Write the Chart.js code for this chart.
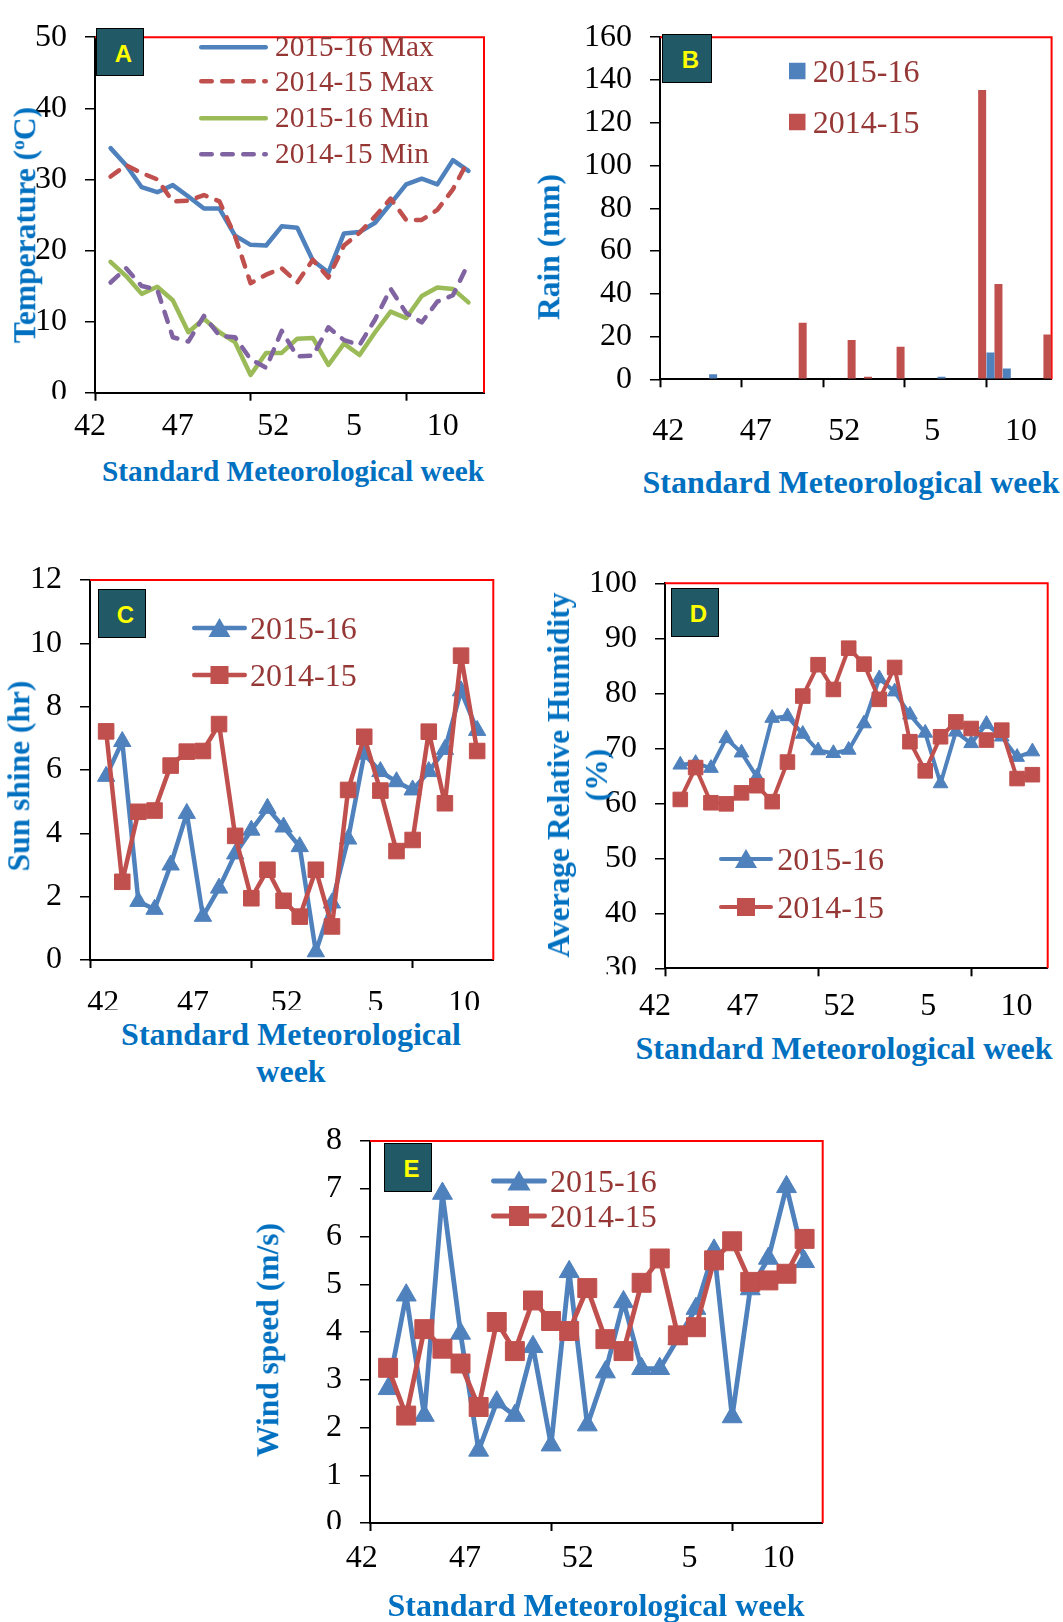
<!DOCTYPE html>
<html>
<head>
<meta charset="utf-8">
<title>Weather by standard meteorological week</title>
<script src="https://cdn.jsdelivr.net/npm/chart.js@4.4.1/dist/chart.umd.min.js"></script>
<style>
  html, body { margin: 0; padding: 0; background: #fff; }
  body { position: relative; width: 1063px; height: 1622px; overflow: hidden; font-family: 'Liberation Serif', 'Times New Roman', serif; }
  canvas { position: absolute; }
  .ytitle, .xtitle { position: absolute; color: #0070C0; font-weight: bold; white-space: nowrap; line-height: 1; }
  .ytitle { font-size: 31.5px; transform: translate(-50%, -50%) rotate(-90deg); text-align: center; }
  .xtitle { font-size: 32px; transform: translate(-50%, -50%); }
  .sup { font-size: 0.62em; position: relative; top: -0.55em; }
  .tag { position: absolute; background: #215967; border: 1px solid #000; box-sizing: border-box; color: #FFFF00;
         font: bold 24px 'Liberation Sans', Arial, sans-serif; display: flex; align-items: center; justify-content: center; padding: 3px 0 0 7px; }
  .leg { position: absolute; display: flex; align-items: center; transform: translateY(-50%); color: #953735; line-height: 1; white-space: nowrap; }
  .leg svg { display: block; }
</style>
</head>
<body>
<canvas id="chartA"></canvas>
<canvas id="chartB"></canvas>
<canvas id="chartC"></canvas>
<canvas id="chartD"></canvas>
<canvas id="chartE"></canvas>

<div class="ytitle" style="left:25px;top:225px">Temperature (<span class="sup">o</span>C)</div>
<div class="xtitle" style="left:293px;top:472px;font-size:29.3px">Standard Meteorological week</div>
<div class="ytitle" style="left:549px;top:247px">Rain (mm)</div>
<div class="xtitle" style="left:851px;top:482px">Standard Meteorological week</div>
<div class="ytitle" style="left:19px;top:776px">Sun shine (hr)</div>
<div style="position:absolute;left:61px;top:1010px;width:460px;padding-top:6px;background:#fff;text-align:center;color:#0070C0;font-weight:bold;font-size:32px;line-height:37px">Standard Meteorological<br>week</div>
<div class="ytitle" style="left:578px;top:775px;line-height:38px">Average Relative Humidity<br>(%)</div>
<div class="xtitle" style="left:844px;top:1048px">Standard Meteorological week</div>
<div class="ytitle" style="left:268px;top:1340px">Wind speed (m/s)</div>
<div class="xtitle" style="left:596px;top:1605px">Standard Meteorological week</div>

<div class="tag" style="left:96px;top:28px;width:48px;height:48px">A</div>
<div class="tag" style="left:662px;top:34px;width:50px;height:49px">B</div>
<div class="tag" style="left:98px;top:589px;width:48px;height:49px">C</div>
<div class="tag" style="left:671px;top:588px;width:48px;height:49px">D</div>
<div class="tag" style="left:384px;top:1143px;width:48px;height:49px">E</div>

<script>
// categories: standard meteorological weeks, 42 of one year to 13 of the next
const weeks = [42, 43, 44, 45, 46, 47, 48, 49, 50, 51, 52, 1, 2, 3, 4, 5, 6, 7, 8, 9, 10, 11, 12, 13];
const weekTicks = ['42', '47', '52', '5', '10'];
const seasons = ['2015-16', '2014-15'];

// A: temperature (deg C)
const tMax1516 = [34.4, 32.0, 28.9, 28.2, 29.2, 27.6, 25.9, 25.9, 22.1, 20.8, 20.7, 23.4, 23.2, 18.6, 16.9, 22.4, 22.6, 23.9, 26.6, 29.3, 30.1, 29.3, 32.7, 31.2];
const tMax1415 = [30.4, 32.0, 30.9, 30.0, 26.9, 27.0, 27.8, 26.9, 22.0, 15.4, 16.6, 17.5, 15.5, 18.7, 16.2, 20.7, 22.5, 24.8, 27.3, 24.3, 24.3, 25.7, 28.6, 32.7];
const tMin1516 = [18.4, 16.4, 13.9, 14.9, 13.0, 8.5, 10.4, 8.5, 7.1, 2.5, 5.6, 5.6, 7.6, 7.7, 3.9, 6.9, 5.3, 8.5, 11.4, 10.5, 13.6, 14.8, 14.6, 12.7];
const tMin1415 = [15.5, 17.5, 15.0, 14.5, 7.8, 7.2, 10.8, 8.0, 7.8, 4.7, 3.5, 8.7, 5.1, 5.2, 9.2, 7.4, 6.7, 10.3, 14.6, 11.2, 9.9, 12.8, 13.7, 18.2];

// B: rain (mm)
const rain1516 = [0, 0, 0, 2.4, 0, 0, 0, 0, 0, 0, 0, 0, 0, 0, 0, 0, 0, 1.2, 0, 0, 12.5, 5.0, 0, 0];
const rain1415 = [0, 0, 0, 0, 0, 0, 0, 0, 26.4, 0, 0, 18.4, 1.2, 0, 15.2, 0, 0, 0, 0, 135.3, 44.6, 0, 0, 20.9];

// C: sun shine (hr)
const sun1516 = [5.8, 6.9, 1.85, 1.6, 3.0, 4.63, 1.38, 2.27, 3.35, 4.1, 4.79, 4.2, 3.58, 0.26, 1.8, 3.82, 6.5, 5.95, 5.63, 5.37, 5.95, 6.65, 8.5, 7.25];
const sun1415 = [7.22, 2.47, 4.68, 4.72, 6.14, 6.58, 6.6, 7.45, 3.92, 1.95, 2.85, 1.87, 1.37, 2.85, 1.06, 5.37, 7.05, 5.35, 3.44, 3.79, 7.21, 4.95, 9.61, 6.6];

// D: average relative humidity (%)
const rh1516 = [67.0, 67.3, 66.4, 71.8, 69.2, 64.8, 75.5, 75.8, 72.6, 69.6, 69.1, 69.7, 74.5, 82.7, 80.3, 76.1, 72.8, 63.6, 73.0, 70.9, 74.4, 72.1, 68.4, 69.4];
const rh1415 = [60.7, 66.5, 60.1, 59.9, 61.9, 63.2, 60.3, 67.5, 79.5, 85.2, 80.7, 88.2, 85.3, 78.9, 84.7, 71.2, 65.9, 72.1, 74.8, 73.6, 71.5, 73.3, 64.5, 65.2];

// E: wind speed (m/s)
const wind1516 = [2.81, 4.77, 2.25, 6.9, 3.97, 1.52, 2.53, 2.25, 3.69, 1.63, 5.26, 2.05, 3.16, 4.63, 3.23, 3.23, 3.86, 4.49, 5.71, 2.22, 4.9, 5.54, 7.04, 5.47];
const wind1415 = [3.25, 2.25, 4.06, 3.65, 3.34, 2.43, 4.21, 3.6, 4.66, 4.23, 4.02, 4.92, 3.85, 3.6, 5.03, 5.54, 3.93, 4.1, 5.5, 5.9, 5.05, 5.08, 5.22, 5.95];

const BLUE = '#4F81BD', RED = '#C0504D', GREEN = '#9BBB59', PURPLE = '#8064A2';
const SERIF = "'Liberation Serif', 'Times New Roman', serif";
const TICK = 8;   // x tick mark length
const LBL = 32;   // x label font size

// red frame on top/right of the plot, and the half-hidden bottom y label
const frame = {
  id: 'frame',
  beforeDatasetsDraw(chart) {
    const { ctx, chartArea: a } = chart;
    ctx.save();
    ctx.strokeStyle = '#FF0000';
    ctx.lineWidth = 2;
    ctx.beginPath();
    ctx.moveTo(a.left, a.top);
    ctx.lineTo(a.right, a.top);
    ctx.lineTo(a.right, a.bottom);
    ctx.stroke();
    ctx.restore();
  },
  afterDraw(chart, args, opts) {
    if (!opts.cut) return;
    const { ctx, chartArea: a } = chart;
    ctx.save();
    ctx.fillStyle = '#fff';
    ctx.fillRect(0, a.bottom + 6, a.left - 12, 14);
    ctx.restore();
  }
};

function place(id, box) {
  const cv = document.getElementById(id);
  cv.width = box.w;
  cv.height = box.h;
  cv.style.left = box.x + 'px';
  cv.style.top = box.y + 'px';
  return cv;
}

function buildOptions(box, area, cfg) {
  const xTop = area.b + TICK;
  const xlH = box.y + box.h - xTop;
  const x = {
    position: 'bottom', weight: 0,
    border: { color: '#000', width: 2 },
    grid: {
      drawOnChartArea: false, drawTicks: true, tickLength: TICK, tickWidth: 2, color: '#000',
      offset: !!cfg.bars,
      tickColor: cfg.bars ? (c => c.index % 5 === 0 ? '#000' : 'rgba(0,0,0,0)') : '#000'
    },
    ticks: { autoSkip: false, maxRotation: 0, callback: () => '' },
    afterFit: s => { s.height = TICK; }
  };
  if (cfg.bars) {
    x.type = 'category';
    x.offset = true;
  } else {
    x.type = 'linear';
    x.offset = false;
    x.min = 42;
    x.max = 67;
    x.afterBuildTicks = s => { s.ticks = [42, 52, 62].map(v => ({ value: v })); };
  }
  return {
    responsive: false, animation: false, events: [], devicePixelRatio: 1,
    layout: { padding: { top: area.t - box.y, right: box.x + box.w - area.r, left: 0, bottom: 0 } },
    plugins: { legend: { display: false }, tooltip: { enabled: false }, frame: { cut: !!cfg.cut } },
    scales: {
      x: x,
      xl: {
        type: 'linear', axis: 'x', position: 'bottom', weight: 1, offset: false,
        min: cfg.bars ? 0 : 42, max: cfg.bars ? 24 : 67,
        border: { display: false },
        grid: { display: false, drawTicks: false, offset: false },
        afterBuildTicks: s => { s.ticks = cfg.labelAt.map(v => ({ value: v })); },
        ticks: {
          autoSkip: false, maxRotation: 0, color: '#000',
          padding: cfg.labelY - xTop - LBL * 0.6,
          font: { family: SERIF, size: LBL, lineHeight: 1.2 },
          callback: (v, i) => weekTicks[i]
        },
        afterFit: s => { s.height = xlH; }
      },
      y: {
        min: cfg.y[0], max: cfg.y[1],
        border: { color: '#000', width: 2 },
        grid: { drawOnChartArea: false, tickLength: 10, color: '#000', lineWidth: 1.5 },
        ticks: { stepSize: cfg.y[2], padding: 18, color: '#000', font: { family: SERIF, size: 32 } },
        afterFit: s => { s.width = area.l - box.x; }
      }
    }
  };
}

function series(label, values, color, st) {
  return {
    label: label, order: st.order,
    data: values.map((v, i) => ({ x: 43 + i, y: v })),
    borderColor: color, backgroundColor: color,
    borderWidth: st.lw, borderDash: st.dash || [],
    borderJoinStyle: 'round', borderCapStyle: 'round',
    pointStyle: st.marker || 'circle',
    pointRadius: st.r || 0, pointBorderWidth: 1,
    pointBorderColor: color, pointBackgroundColor: color,
    tension: 0, clip: false, xAxisID: 'x', yAxisID: 'y'
  };
}

function lineChart(id, box, area, cfg, datasets) {
  return new Chart(place(id, box), {
    type: 'line',
    data: { datasets: datasets },
    options: buildOptions(box, area, cfg),
    plugins: [frame]
  });
}

// A
lineChart('chartA', { x: 0, y: 0, w: 500, h: 455 }, { l: 95, t: 24, r: 484, b: 392.7 },
  { y: [0, 50, 10], labelAt: [41.68, 47.32, 53.46, 58.65, 64.35], labelY: 426.7, cut: true },
  [
    series(seasons[0] + ' Max', tMax1516, BLUE, { lw: 4.5, order: 4 }),
    series(seasons[1] + ' Max', tMax1415, RED, { lw: 4.5, dash: [10.5, 10.5], order: 3 }),
    series(seasons[0] + ' Min', tMin1516, GREEN, { lw: 4.5, order: 2 }),
    series(seasons[1] + ' Min', tMin1415, PURPLE, { lw: 4.5, dash: [10.5, 10.5], order: 1 })
  ]);

// B
(function () {
  const box = { x: 540, y: 0, w: 523, h: 460 };
  const area = { l: 660, t: 29.3, r: 1052.3, b: 379.3 };
  new Chart(place('chartB', box), {
    type: 'bar',
    data: {
      labels: weeks.map(String),
      datasets: [
        { label: seasons[0], data: rain1516, backgroundColor: BLUE, categoryPercentage: 0.98, barPercentage: 1, xAxisID: 'x', yAxisID: 'y' },
        { label: seasons[1], data: rain1415, backgroundColor: RED, categoryPercentage: 0.98, barPercentage: 1, xAxisID: 'x', yAxisID: 'y' }
      ]
    },
    options: buildOptions(box, area, { bars: true, y: [0, 160, 20], labelAt: [0.51, 5.87, 11.3, 16.68, 22.12], labelY: 431.7 }),
    plugins: [frame]
  });
})();

// C
lineChart('chartC', { x: 0, y: 540, w: 510, h: 480 }, { l: 90, t: 580, r: 493.3, b: 960 },
  { y: [0, 12, 2], labelAt: [42.82, 48.39, 54.2, 59.7, 65.2], labelY: 1004 },
  [
    series(seasons[0], sun1516, BLUE, { lw: 4.5, marker: 'triangle', r: 10, order: 2 }),
    series(seasons[1], sun1415, RED, { lw: 4.5, marker: 'rect', r: 11, order: 1 })
  ]);

// D
lineChart('chartD', { x: 540, y: 545, w: 523, h: 480 }, { l: 665, t: 583.3, r: 1047.7, b: 968.3 },
  { y: [30, 100, 10], labelAt: [41.35, 47.08, 53.4, 59.2, 64.97], labelY: 1006.7, cut: true },
  [
    series(seasons[0], rh1516, BLUE, { lw: 4, marker: 'triangle', r: 8.5, order: 2 }),
    series(seasons[1], rh1415, RED, { lw: 4, marker: 'rect', r: 10.3, order: 1 })
  ]);

// E
lineChart('chartE', { x: 280, y: 1100, w: 560, h: 500 }, { l: 370, t: 1141, r: 822.7, b: 1523 },
  { y: [0, 8, 1], labelAt: [41.54, 47.25, 53.47, 59.64, 64.56], labelY: 1558.7, cut: true },
  [
    series(seasons[0], wind1516, BLUE, { lw: 4.8, marker: 'triangle', r: 11.5, order: 2 }),
    series(seasons[1], wind1415, RED, { lw: 4.8, marker: 'rect', r: 13.4, order: 1 })
  ]);

// legends (html, placed inside the plot areas)
function sample(w, color, st) {
  const h = 26, cy = 13, m = st.m || 0;
  let s = '<svg width="' + w + '" height="' + h + '">';
  if (st.lw) {
    s += '<line x1="' + st.lw / 2 + '" y1="' + cy + '" x2="' + (w - st.lw / 2) + '" y2="' + cy + '" stroke="' + color +
         '" stroke-width="' + st.lw + '" stroke-linecap="round"' + (st.dash ? ' stroke-dasharray="' + st.dash + '"' : '') + '/>';
  }
  const c = w / 2;
  if (st.marker === 'tri') {
    s += '<polygon points="' + c + ',' + (cy - m * 0.5) + ' ' + (c - m * 0.55) + ',' + (cy + m * 0.45) + ' ' + (c + m * 0.55) + ',' + (cy + m * 0.45) + '" fill="' + color + '"/>';
  } else if (st.marker === 'sq') {
    s += '<rect x="' + (c - m / 2) + '" y="' + (cy - m / 2) + '" width="' + m + '" height="' + m + '" fill="' + color + '"/>';
  }
  return s + '</svg>';
}

function legend(x, rows, size, gap) {
  rows.forEach(r => {
    const d = document.createElement('div');
    d.className = 'leg';
    d.style.left = x + 'px';
    d.style.top = r.y + 'px';
    d.style.fontSize = size + 'px';
    d.innerHTML = r.svg + '<span style="margin-left:' + gap + 'px">' + r.text + '</span>';
    document.body.appendChild(d);
  });
}

legend(199.3, [
  { y: 47.3, svg: sample(69, BLUE, { lw: 4.5 }), text: seasons[0] + ' Max' },
  { y: 81.7, svg: sample(69, RED, { lw: 4.5, dash: '10.5 10.5' }), text: seasons[1] + ' Max' },
  { y: 118.3, svg: sample(69, GREEN, { lw: 4.5 }), text: seasons[0] + ' Min' },
  { y: 154, svg: sample(69, PURPLE, { lw: 4.5, dash: '10.5 10.5' }), text: seasons[1] + ' Min' }
], 29.3, 6.7);

legend(789.3, [
  { y: 70.7, svg: sample(16.5, BLUE, { marker: 'sq', m: 16.5 }), text: seasons[0] },
  { y: 121.7, svg: sample(16.5, RED, { marker: 'sq', m: 16.5 }), text: seasons[1] }
], 32, 7);

legend(191.7, [
  { y: 628.3, svg: sample(55, BLUE, { lw: 4.5, marker: 'tri', m: 20 }), text: seasons[0] },
  { y: 675, svg: sample(55, RED, { lw: 4.5, marker: 'sq', m: 18 }), text: seasons[1] }
], 32, 3.3);

legend(719.3, [
  { y: 859, svg: sample(54, BLUE, { lw: 4, marker: 'tri', m: 20 }), text: seasons[0] },
  { y: 906.7, svg: sample(54, RED, { lw: 4, marker: 'sq', m: 18 }), text: seasons[1] }
], 32, 4);

legend(490.7, [
  { y: 1181.3, svg: sample(56, BLUE, { lw: 4.8, marker: 'tri', m: 21 }), text: seasons[0] },
  { y: 1216, svg: sample(56, RED, { lw: 4.8, marker: 'sq', m: 20 }), text: seasons[1] }
], 32, 3.3);
</script>
</body>
</html>
